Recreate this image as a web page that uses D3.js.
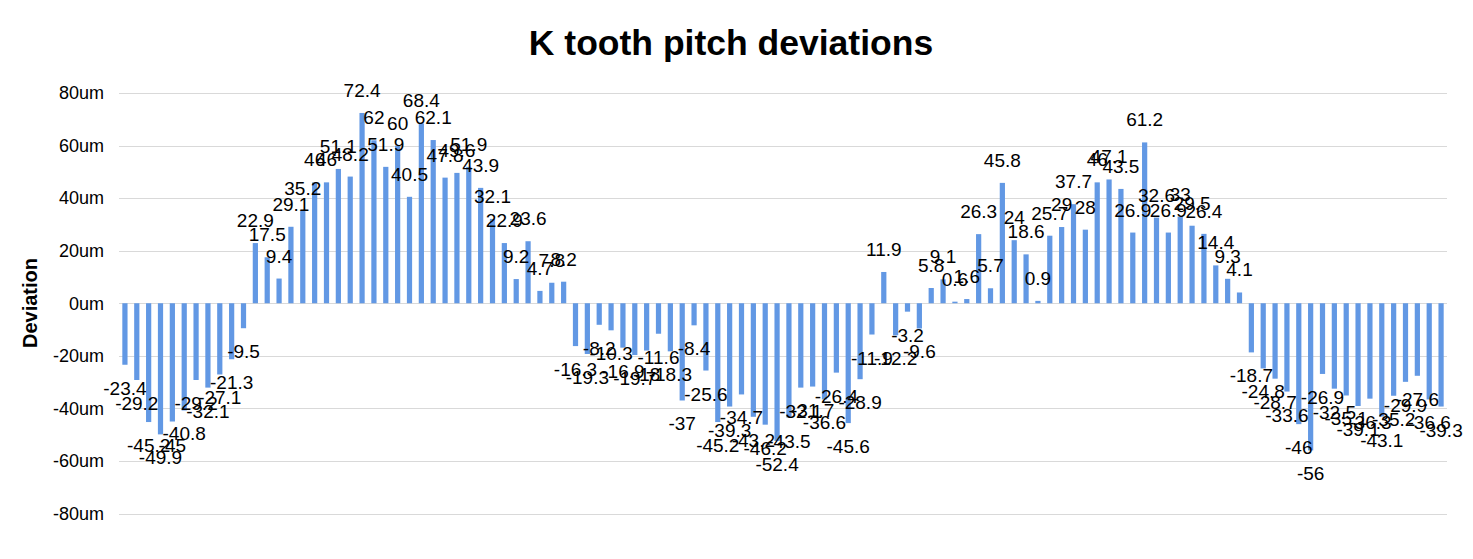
<!DOCTYPE html>
<html>
<head>
<meta charset="utf-8">
<script src="https://cdn.jsdelivr.net/npm/d3@7"></script>
<style>
  html, body { margin: 0; padding: 0; background: #ffffff; }
  svg { display: block; font-family: "Liberation Sans", Arial, sans-serif; }
</style>
</head>
<body>
<svg id="chart" width="1473" height="559"></svg>
<script>
const title = "K tooth pitch deviations";
const yAxisTitle = "Deviation";
const yTicks = [-80, -60, -40, -20, 0, 20, 40, 60, 80];
const yTickLabels = ["-80um", "-60um", "-40um", "-20um", "0um", "20um", "40um", "60um", "80um"];
const teeth = d3.range(1, 113);
const deviations = [
  -23.4, -29.2, -45.2, -49.9, -45, -40.8, -29.2, -32.1, -27.1, -21.3, -9.5,
  22.9, 17.5, 9.4, 29.1, 35.2, 46, 46, 51.1, 48.2, 72.4, 62, 51.9, 60, 40.5,
  68.4, 62.1, 47.8, 49.6, 51.9, 43.9, 32.1, 22.9, 9.2, 23.6, 4.7, 7.8, 8.2,
  -16.3, -19.3, -8.2, -10.3, -16.9, -19.7, -18, -11.6, -18.3, -37, -8.4, -25.6,
  -45.2, -39.3, -34.7, -43.2, -46.2, -52.4, -43.5, -32.1, -31.7, -36.6, -26.4, -45.6, -28.9,
  -11.9, 11.9, -12.2, -3.2, -9.6, 5.8, 9.1, 0.6, 1.6, 26.3, 5.7, 45.8, 24, 18.6, 0.9,
  25.7, 29, 37.7, 28, 46, 47.1, 43.5, 26.9, 61.2, 32.6, 26.9, 33, 29.5, 26.4, 14.4, 9.3, 4.1,
  -18.7, -24.8, -28.7, -33.6, -46, -56, -26.9, -32.5, -35.1, -39.1, -36.3, -43.1,
  -35.2, -29.9, -27.6, -36.6, -39.3
];

const svg = d3.select("#chart");
const x = d3.scaleBand().domain(teeth).range([119, 1447]).paddingInner(0.56).paddingOuter(0.28);
const y = d3.scaleLinear().domain([-80, 80]).range([513.5, 93]);

// gridlines
svg.append("g").selectAll("line").data(yTicks).join("line")
  .attr("x1", 119).attr("x2", 1447)
  .attr("y1", d => Math.round(y(d)) + 0.5).attr("y2", d => Math.round(y(d)) + 0.5)
  .attr("stroke", "#d9d9d9").attr("stroke-width", 1);

// y axis tick labels
const yAxis = d3.axisLeft(y).tickValues(yTicks)
  .tickFormat((d, i) => yTickLabels[i]).tickSize(0).tickPadding(0);
const ya = svg.append("g").attr("transform", "translate(104,0)").call(yAxis);
ya.select(".domain").remove();
ya.selectAll("text").attr("font-size", 18).attr("fill", "#000")
  .attr("font-family", "Liberation Sans, Arial, sans-serif");

// bars
svg.append("g").selectAll("rect").data(deviations).join("rect")
  .attr("x", (d, i) => x(teeth[i]))
  .attr("width", x.bandwidth())
  .attr("y", d => y(Math.max(0, d)))
  .attr("height", d => Math.abs(y(d) - y(0)))
  .attr("fill", "#6298e4");

// data labels
svg.append("g").selectAll("text").data(deviations).join("text")
  .attr("x", (d, i) => x(teeth[i]) + x.bandwidth() / 2)
  .attr("y", d => d >= 0 ? y(d) - 16 : y(d) + 30)
  .attr("text-anchor", "middle")
  .attr("font-size", 19)
  .attr("fill", "#000")
  .text(d => String(d));

// title
svg.append("text").attr("x", 731).attr("y", 55).attr("text-anchor", "middle")
  .attr("font-size", 35.5).attr("font-weight", "bold").attr("fill", "#000").text(title);

// y axis title
svg.append("text").attr("transform", "translate(37,303) rotate(-90)")
  .attr("text-anchor", "middle").attr("font-size", 20).attr("font-weight", "bold")
  .attr("fill", "#000").text(yAxisTitle);
</script>
</body>
</html>
